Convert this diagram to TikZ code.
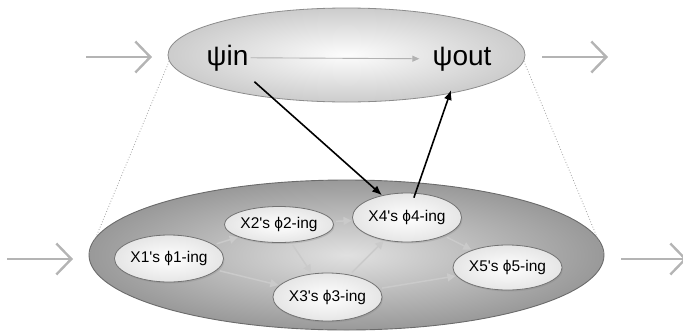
\documentclass[tikz,border=0pt]{standalone}
\usepackage{fontspec}
\setmainfont{Liberation Sans}
\usetikzlibrary{arrows.meta,shapes.geometric,shadows}
\definecolor{outarrow}{HTML}{B4B4B4}
\definecolor{innerarrow}{HTML}{CACACA}
\definecolor{dotline}{HTML}{A0A0A0}
\begin{document}
\begin{tikzpicture}[x=1pt,y=-1pt,
  bigarrow/.style={draw=outarrow, line width=2.4pt,
    -{Straight Barb[length=15pt,width=31pt,line width=2.4pt]}},
  toplevel/.style={ellipse, draw=black!45, line width=0.8pt,
    inner color=black!1, outer color=black!20, inner sep=0pt},
  botlevel/.style={ellipse, draw=black!58, line width=0.9pt,
    inner color=black!12, outer color=black!40, inner sep=0pt},
  psitext/.style={inner sep=2pt, anchor=base, font=\fontsize{28}{30}\selectfont},
  proc/.style={ellipse, draw=black!55, line width=0.8pt, inner sep=0pt,
    inner color=white, outer color=black!10,
    font=\fontsize{15.5}{18}\selectfont,
    drop shadow={shadow xshift=1pt, shadow yshift=-1.5pt, opacity=0.25}},
  flow/.style={draw=innerarrow, line width=1.5pt,
    -{Triangle[length=8pt,width=8pt]}, shorten <=3pt, shorten >=1pt},
  psiflow/.style={draw=black!30, line width=0.9pt,
    -{Triangle[length=7pt,width=6pt]}},
  link/.style={draw=black, line width=1.6pt, -{Latex[length=10pt,width=8pt]}},
  bridge/.style={draw=dotline, line width=0.8pt, dotted}
]
\useasboundingbox (0,0) rectangle (683,335);

% levels
\node[botlevel, minimum width=515pt, minimum height=150pt] (bot) at (346.5,255) {};
\node[toplevel, minimum width=357pt, minimum height=94pt] (top) at (346.5,55) {};

% dotted bridges
\draw[bridge] (top.182) -- (bot.west);
\draw[bridge] (top.358) -- (bot.east);

% outside arrows
\coordinate (tlA) at (86,57);  \coordinate (tlB) at (152,57);
\coordinate (trA) at (542,57); \coordinate (trB) at (608,57);
\coordinate (blA) at (7,259);  \coordinate (blB) at (73,259);
\coordinate (brA) at (621,259); \coordinate (brB) at (687,259);
\draw[bigarrow] (tlA) -- (tlB);
\draw[bigarrow] (trA) -- (trB);
\draw[bigarrow] (blA) -- (blB);
\draw[bigarrow] (brA) -- (brB);

% top level texts
\node[psitext] (psiin) at (227.5,65) {ψin};
\node[psitext] (psiout) at (462,65) {ψout};
\draw[psiflow] (psiin.east) -- ([xshift=-11pt]psiout.west);

% processes
\node[proc, minimum width=88pt, minimum height=47pt] (x1) at (169,258.5) {X1\textquotesingle s ϕ1-ing};
\node[proc, minimum width=92pt, minimum height=36pt] (x2) at (279,224.5) {X2\textquotesingle s ϕ2-ing};
\node[proc, minimum width=89pt, minimum height=48pt] (x3) at (327.5,297) {X3\textquotesingle s ϕ3-ing};
\node[proc, minimum width=90pt, minimum height=49pt] (x4) at (407,217.5) {X4\textquotesingle s ϕ4-ing};
\node[proc, minimum width=91pt, minimum height=45pt] (x5) at (507.5,267.5) {X5\textquotesingle s ϕ5-ing};

% inner flows
\draw[flow] (x1) -- (x2);
\draw[flow] (x1) -- (x3);
\draw[flow] (x2) -- (x3);
\draw[flow] (x2) -- (x4);
\draw[flow] (x3) -- (x4);
\draw[flow] (x4) -- (x5);
\draw[flow] (x3) -- (x5);

% cross-level links
\draw[link, shorten <=36pt] (psiin.center) -- (x4);
\draw[link, shorten <=21pt, shorten >=33pt] (x4.center) -- (psiout.center);
\end{tikzpicture}
\end{document}
